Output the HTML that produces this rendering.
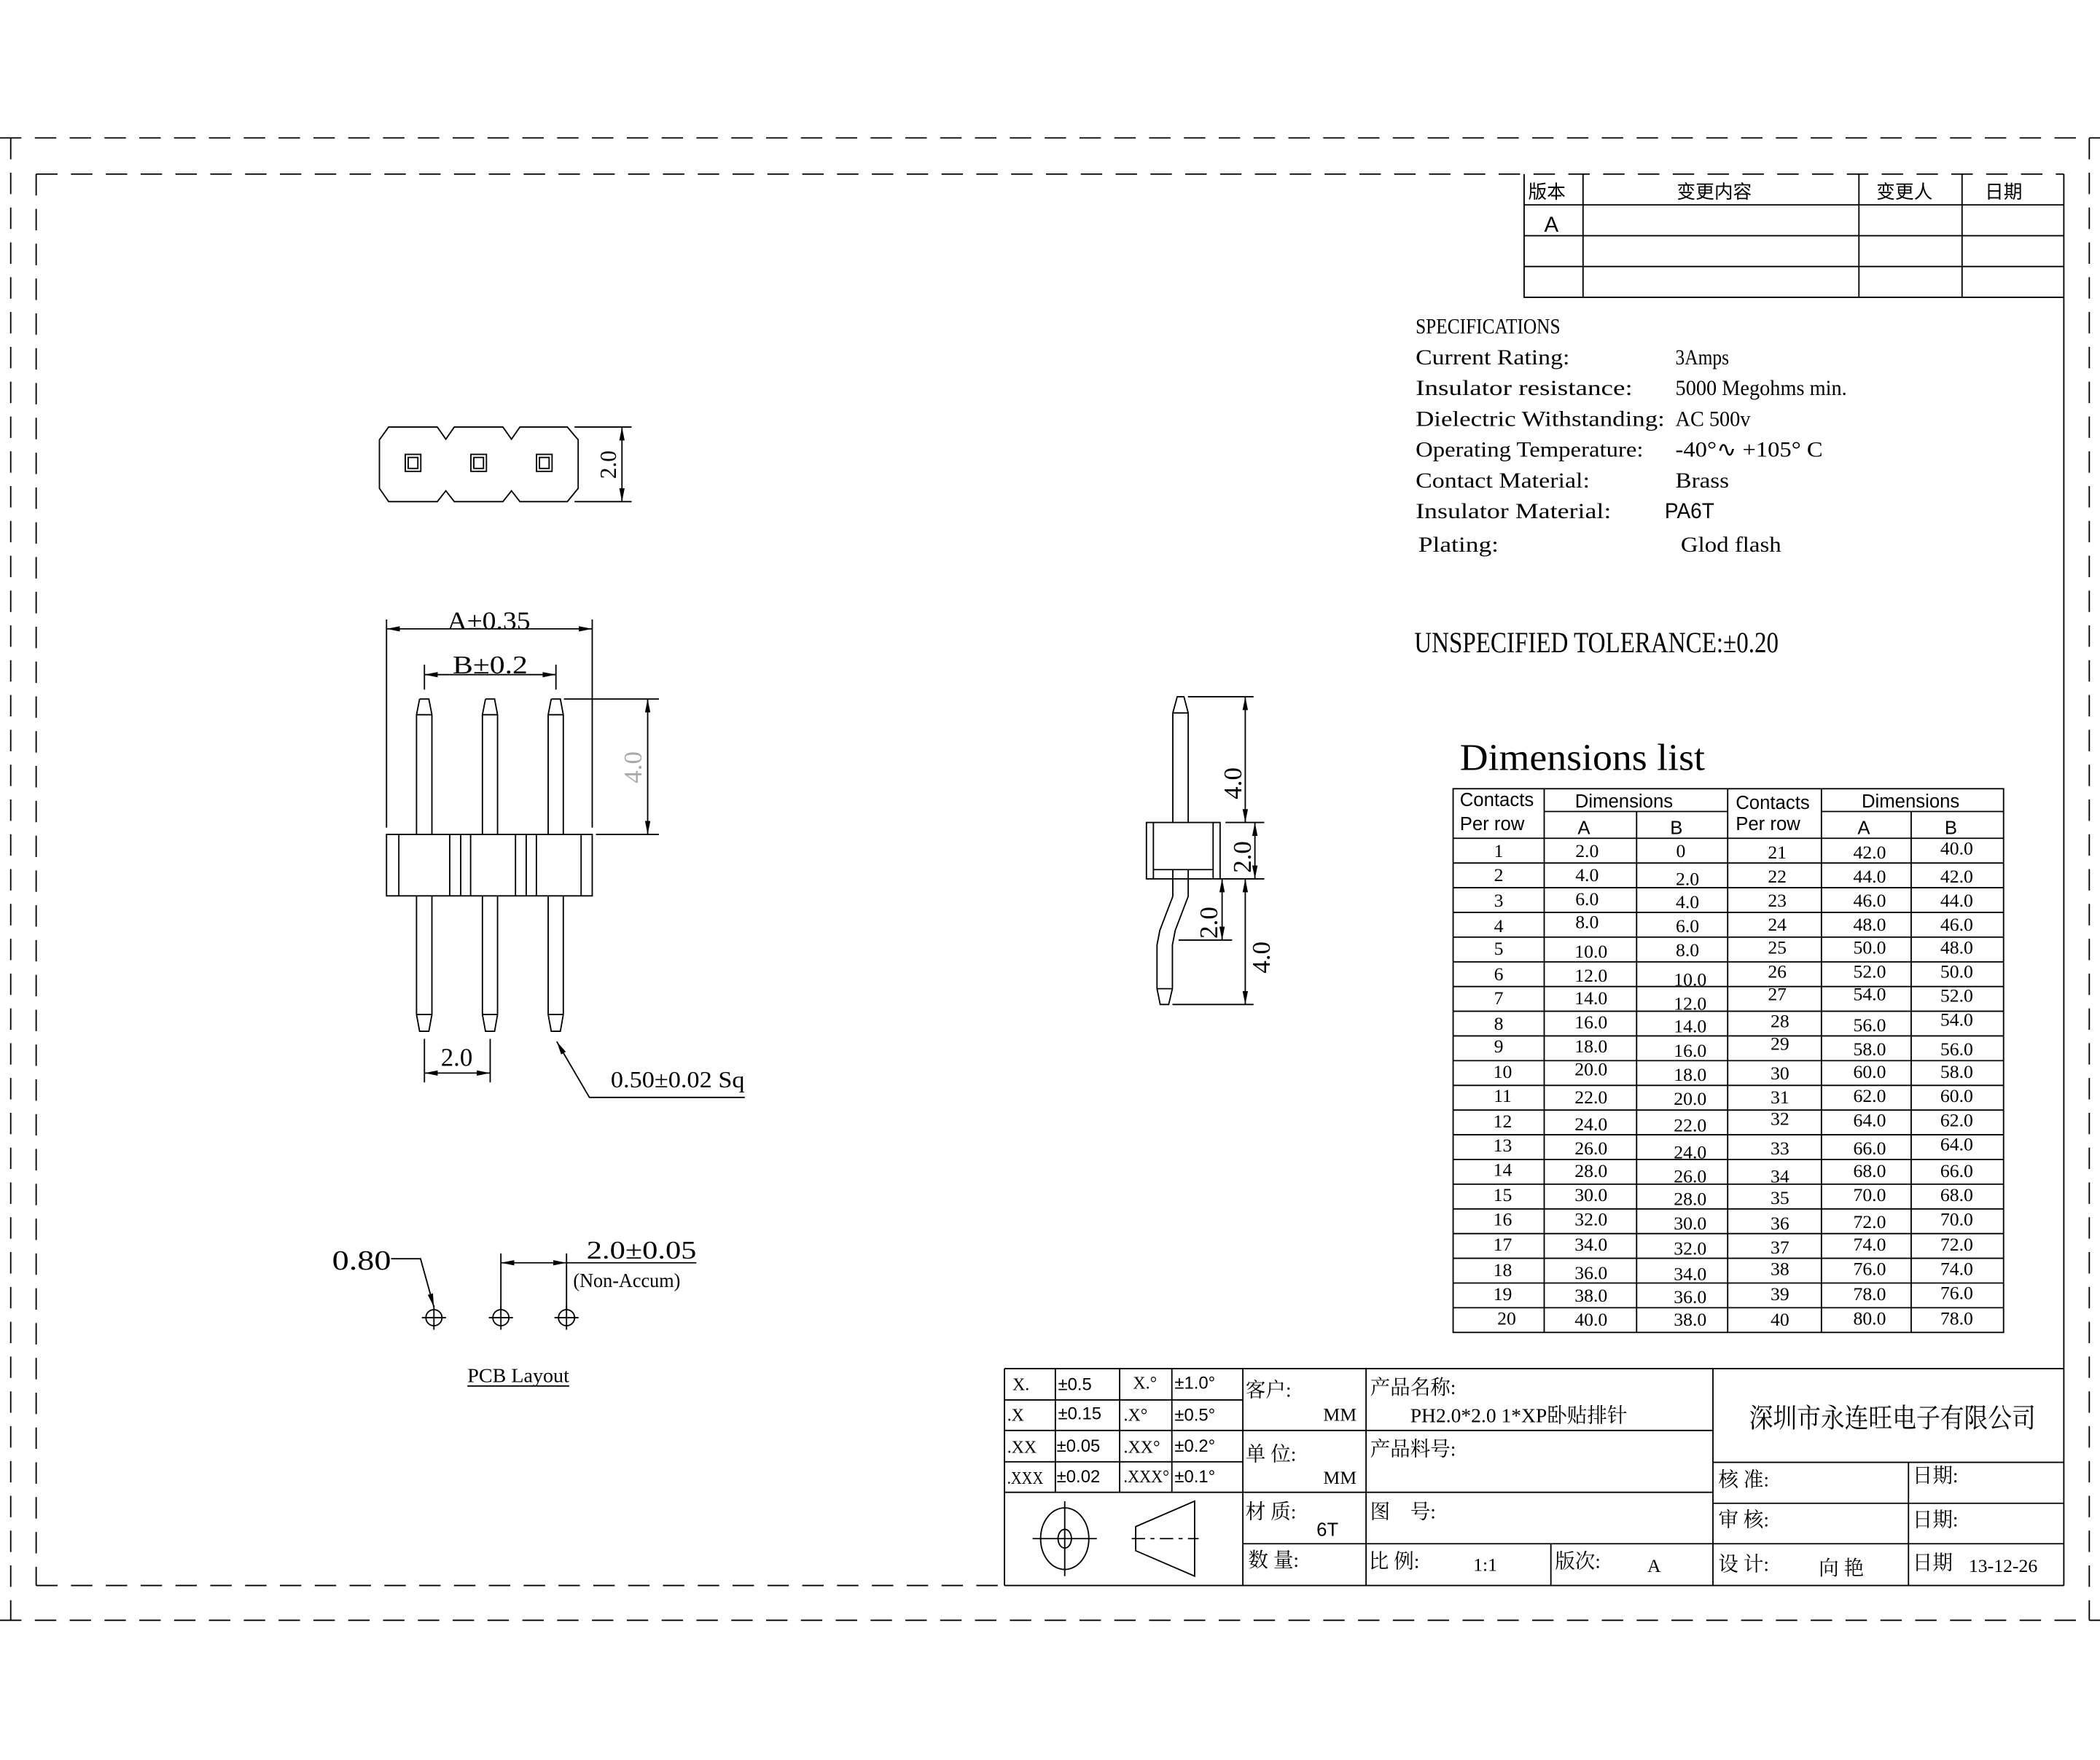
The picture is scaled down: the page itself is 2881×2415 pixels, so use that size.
<!DOCTYPE html>
<html><head><meta charset="utf-8">
<style>
html,body{margin:0;padding:0;background:#fff;}
svg{display:block;}
text{font-family:"Liberation Serif","Noto Serif CJK SC","Noto Sans CJK SC",serif;fill:#000;}
.s{font-family:"Liberation Sans","Noto Sans CJK SC",sans-serif;}
.c{font-family:"Liberation Sans","Noto Sans CJK SC",sans-serif;}
</style></head>
<body>
<svg width="2881" height="2415" viewBox="0 0 1568 1314.3" preserveAspectRatio="none" xmlns="http://www.w3.org/2000/svg">
<defs>
<marker id="ar" viewBox="0 0 10 4" refX="10" refY="2" markerWidth="10" markerHeight="4" markerUnits="userSpaceOnUse" orient="auto-start-reverse"><path d="M0,0 L10,2 L0,4 z" fill="#000"/></marker>
</defs>
<rect width="1568" height="1314.3" fill="#fff"/>
<g fill="none" stroke="#000" stroke-width="1">
<path d="M0,103 H1568 M0,1210 H1568 M8,103 V1210 M1560,103 V1210" stroke-dasharray="16,10"/>
<path d="M27,130 H1541 M27,1184 H750 M27,130 V1184" stroke-dasharray="16,10"/>
<path d="M1541,130 V1184 M750,1184 H1541"/>
<path d="M1138,130 V222 H1541 M1138,153 H1541 M1138,176 H1541 M1138,199 H1541 M1182,130 V222 M1388,130 V222 M1465,130 V222"/>
</g>
<g font-size="14">
<text x="1141" y="148" class="c">版本</text>
<text x="1252" y="148" class="c">变更内容</text>
<text x="1401" y="148" class="c">变更人</text>
<text x="1482" y="148" class="c">日期</text>
<text x="1153" y="173" class="s" font-size="16">A</text>
</g>
<g font-size="16">
<text x="1057" y="249" lengthAdjust="spacingAndGlyphs" textLength="108">SPECIFICATIONS</text>
<text x="1057" y="272" lengthAdjust="spacingAndGlyphs" textLength="115">Current Rating:</text>
<text x="1251" y="272" lengthAdjust="spacingAndGlyphs" textLength="40">3Amps</text>
<text x="1057" y="295" lengthAdjust="spacingAndGlyphs" textLength="162">Insulator resistance:</text>
<text x="1251" y="295" lengthAdjust="spacingAndGlyphs" textLength="128">5000 Megohms min.</text>
<text x="1057" y="318" lengthAdjust="spacingAndGlyphs" textLength="186">Dielectric Withstanding:</text>
<text x="1251" y="318" lengthAdjust="spacingAndGlyphs" textLength="56">AC 500v</text>
<text x="1057" y="341" lengthAdjust="spacingAndGlyphs" textLength="170">Operating Temperature:</text>
<text x="1251" y="341" lengthAdjust="spacingAndGlyphs" textLength="110">-40°∿ +105° C</text>
<text x="1057" y="364" lengthAdjust="spacingAndGlyphs" textLength="130">Contact Material:</text>
<text x="1251" y="364" lengthAdjust="spacingAndGlyphs" textLength="40">Brass</text>
<text x="1057" y="387" lengthAdjust="spacingAndGlyphs" textLength="146">Insulator Material:</text>
<text x="1243" y="387" class="s" lengthAdjust="spacingAndGlyphs" textLength="37">PA6T</text>
<text x="1059" y="412" lengthAdjust="spacingAndGlyphs" textLength="60">Plating:</text>
<text x="1255" y="412" lengthAdjust="spacingAndGlyphs" textLength="75">Glod flash</text>
<text x="1056" y="487" font-size="22" lengthAdjust="spacingAndGlyphs" textLength="272">UNSPECIFIED TOLERANCE:±0.20</text>
<text x="1090" y="575" font-size="28" lengthAdjust="spacingAndGlyphs" textLength="183">Dimensions list</text>
</g>
<g fill="none" stroke="#000" stroke-width="1">
<rect x="1085" y="589" width="411" height="406"/>
<path d="M1153,589 V995 M1290,589 V995 M1360,589 V995 M1153,606 H1290 M1360,606 H1496 M1222,606 V995 M1427,606 V995"/>
<path d="M1085,626 H1496 M1085,644.45 H1496 M1085,662.9 H1496 M1085,681.35 H1496 M1085,699.8 H1496 M1085,718.25 H1496 M1085,736.7 H1496 M1085,755.15 H1496 M1085,773.6 H1496 M1085,792.05 H1496 M1085,810.5 H1496 M1085,828.95 H1496 M1085,847.4 H1496 M1085,865.85 H1496 M1085,884.3 H1496 M1085,902.75 H1496 M1085,921.2 H1496 M1085,939.65 H1496 M1085,958.1 H1496 M1085,976.55 H1496"/>
</g>
<g font-size="14" fill="#000">
<text x="1090" y="602" class="s" fill="#333">Contacts</text>
<text x="1090" y="620" class="s" fill="#333">Per row</text>
<text x="1176" y="603" class="s" fill="#333">Dimensions</text>
<text x="1178" y="623" class="s" fill="#333">A</text>
<text x="1247" y="623" class="s" fill="#333">B</text>
<text x="1296" y="604" class="s" fill="#333">Contacts</text>
<text x="1296" y="620" class="s" fill="#333">Per row</text>
<text x="1390" y="603" class="s" fill="#333">Dimensions</text>
<text x="1387" y="623" class="s" fill="#333">A</text>
<text x="1452" y="623" class="s" fill="#333">B</text>
</g>
<g font-size="14" text-anchor="middle">
<text x="1119" y="640">1</text><text x="1185" y="640">2.0</text><text x="1255" y="640">0</text><text x="1327" y="641">21</text><text x="1396" y="641">42.0</text><text x="1461" y="638">40.0</text>
<text x="1119" y="658">2</text><text x="1185" y="658">4.0</text><text x="1260" y="661">2.0</text><text x="1327" y="659">22</text><text x="1396" y="659">44.0</text><text x="1461" y="659">42.0</text>
<text x="1119" y="677">3</text><text x="1185" y="676">6.0</text><text x="1260" y="678">4.0</text><text x="1327" y="677">23</text><text x="1396" y="677">46.0</text><text x="1461" y="677">44.0</text>
<text x="1119" y="696">4</text><text x="1185" y="693">8.0</text><text x="1260" y="696">6.0</text><text x="1327" y="695">24</text><text x="1396" y="695">48.0</text><text x="1461" y="695">46.0</text>
<text x="1119" y="713">5</text><text x="1188" y="715">10.0</text><text x="1260" y="714">8.0</text><text x="1327" y="712">25</text><text x="1396" y="712">50.0</text><text x="1461" y="712">48.0</text>
<text x="1119" y="732">6</text><text x="1188" y="733">12.0</text><text x="1262" y="736">10.0</text><text x="1327" y="730">26</text><text x="1396" y="730">52.0</text><text x="1461" y="730">50.0</text>
<text x="1119" y="750">7</text><text x="1188" y="750">14.0</text><text x="1262" y="754">12.0</text><text x="1327" y="747">27</text><text x="1396" y="747">54.0</text><text x="1461" y="748">52.0</text>
<text x="1119" y="769">8</text><text x="1188" y="768">16.0</text><text x="1262" y="771">14.0</text><text x="1329" y="767">28</text><text x="1396" y="770">56.0</text><text x="1461" y="766">54.0</text>
<text x="1119" y="786">9</text><text x="1188" y="786">18.0</text><text x="1262" y="789">16.0</text><text x="1329" y="784">29</text><text x="1396" y="788">58.0</text><text x="1461" y="788">56.0</text>
<text x="1122" y="805">10</text><text x="1188" y="803">20.0</text><text x="1262" y="807">18.0</text><text x="1329" y="806">30</text><text x="1396" y="805">60.0</text><text x="1461" y="805">58.0</text>
<text x="1122" y="823">11</text><text x="1188" y="824">22.0</text><text x="1262" y="825">20.0</text><text x="1329" y="824">31</text><text x="1396" y="823">62.0</text><text x="1461" y="823">60.0</text>
<text x="1122" y="842">12</text><text x="1188" y="844">24.0</text><text x="1262" y="845">22.0</text><text x="1329" y="840">32</text><text x="1396" y="841">64.0</text><text x="1461" y="841">62.0</text>
<text x="1122" y="860">13</text><text x="1188" y="862">26.0</text><text x="1262" y="865">24.0</text><text x="1329" y="862">33</text><text x="1396" y="862">66.0</text><text x="1461" y="859">64.0</text>
<text x="1122" y="878">14</text><text x="1188" y="879">28.0</text><text x="1262" y="883">26.0</text><text x="1329" y="883">34</text><text x="1396" y="879">68.0</text><text x="1461" y="879">66.0</text>
<text x="1122" y="897">15</text><text x="1188" y="897">30.0</text><text x="1262" y="900">28.0</text><text x="1329" y="899">35</text><text x="1396" y="897">70.0</text><text x="1461" y="897">68.0</text>
<text x="1122" y="915">16</text><text x="1188" y="915">32.0</text><text x="1262" y="918">30.0</text><text x="1329" y="918">36</text><text x="1396" y="917">72.0</text><text x="1461" y="915">70.0</text>
<text x="1122" y="934">17</text><text x="1188" y="934">34.0</text><text x="1262" y="937">32.0</text><text x="1329" y="936">37</text><text x="1396" y="934">74.0</text><text x="1461" y="934">72.0</text>
<text x="1122" y="953">18</text><text x="1188" y="955">36.0</text><text x="1262" y="956">34.0</text><text x="1329" y="952">38</text><text x="1396" y="952">76.0</text><text x="1461" y="952">74.0</text>
<text x="1122" y="971">19</text><text x="1188" y="972">38.0</text><text x="1262" y="973">36.0</text><text x="1329" y="971">39</text><text x="1396" y="971">78.0</text><text x="1461" y="970">76.0</text>
<text x="1125" y="989">20</text><text x="1188" y="990">40.0</text><text x="1262" y="990">38.0</text><text x="1329" y="990">40</text><text x="1396" y="989">80.0</text><text x="1461" y="989">78.0</text>
</g>
<g fill="none" stroke="#000" stroke-width="1">
<path d="M750,1022 H1541 M750,1022 V1184"/>
<path d="M750,1045.4 H928 M750,1068.2 H928 M750,1091.6 H928 M750,1114.4 H1279 M788,1022 V1114.4 M836,1022 V1114.4 M875,1022 V1114.4"/>
<path d="M928,1022 V1184 M1020,1022 V1184 M928,1068.2 H1279 M928,1152.8 H1279 M1158,1152.8 V1184 M1279,1022 V1184"/>
<path d="M1279,1092 H1541 M1279,1122.6 H1541 M1279,1152.8 H1541 M1425,1092 V1184"/>
<ellipse cx="795" cy="1149" rx="18" ry="23"/>
<ellipse cx="795" cy="1149" rx="5" ry="7"/>
<path d="M771,1149 H819 M795,1121 V1177"/>
<path d="M848,1140 L892,1121 V1177 L848,1158 Z"/>
<path d="M845,1149 H895" stroke-dasharray="10,4,3,4"/>
</g>
<g font-size="13">
<text x="756" y="1038">X.</text><text x="790" y="1038" class="s">±0.5</text><text x="846" y="1037">X.°</text><text x="877" y="1037" class="s">±1.0°</text>
<text x="752" y="1061">.X</text><text x="790" y="1060" class="s">±0.15</text><text x="839" y="1061">.X°</text><text x="877" y="1061" class="s">±0.5°</text>
<text x="752" y="1085">.XX</text><text x="789" y="1084" class="s">±0.05</text><text x="839" y="1085">.XX°</text><text x="877" y="1084" class="s">±0.2°</text>
<text x="752" y="1108" lengthAdjust="spacingAndGlyphs" textLength="27">.XXX</text><text x="789" y="1107" class="s">±0.02</text><text x="839" y="1107" lengthAdjust="spacingAndGlyphs" textLength="34">.XXX°</text><text x="877" y="1107" class="s">±0.1°</text>
<text x="930" y="1043" font-size="15">客户:</text>
<text x="988" y="1061" font-size="14">MM</text>
<text x="930" y="1091" font-size="15">单 位:</text>
<text x="988" y="1108" font-size="14">MM</text>
<text x="930" y="1134" font-size="15">材 质:</text>
<text x="983" y="1147" class="s" font-size="14">6T</text>
<text x="932" y="1170" font-size="15">数 量:</text>
<text x="1023" y="1041" font-size="15">产品名称:</text>
<text x="1053" y="1062" font-size="15">PH2.0*2.0 1*XP卧贴排针</text>
<text x="1023" y="1087" font-size="15">产品料号:</text>
<text x="1023" y="1134" font-size="15">图 &#160;&#160;&#160;号:</text>
<text x="1022" y="1171" font-size="15">比 例:</text>
<text x="1100" y="1173" font-size="14">1:1</text>
<text x="1161" y="1171" font-size="15">版次:</text>
<text x="1230" y="1174" font-size="14">A</text>
<text x="1306" y="1066" font-size="20" lengthAdjust="spacingAndGlyphs" textLength="214" font-family="Noto Sans CJK SC,sans-serif">深圳市永连旺电子有限公司</text>
<text x="1283" y="1110" font-size="15">核 准:</text>
<text x="1428" y="1107" font-size="15">日期:</text>
<text x="1283" y="1140" font-size="15">审 核:</text>
<text x="1428" y="1140" font-size="15">日期:</text>
<text x="1283" y="1173" font-size="15">设 计:</text>
<text x="1358" y="1176" font-size="15">向 艳</text>
<text x="1428" y="1172" font-size="15">日期</text>
<text x="1470" y="1174" font-size="14">13-12-26</text>
</g>
<g fill="none" stroke="#000" stroke-width="1">
<path d="M290.2,318.9 H326.5 L332.9,328 L339.2,318.9 H375.5 L381.9,328 L388.2,318.9 H423.6 L431.7,328.4 V364.7 L423.6,374.6 H388.2 L381.9,366.5 L375.5,374.6 H339.2 L332.9,366.5 L326.5,374.6 H290.2 L283.3,364.7 V328.4 Z"/>
<rect x="302.6" y="339.3" width="11.6" height="12.7"/><rect x="304.8" y="341.6" width="7.2" height="8.2"/>
<rect x="351.6" y="339.3" width="11.6" height="12.7"/><rect x="353.8" y="341.6" width="7.2" height="8.2"/>
<rect x="400.6" y="339.3" width="11.6" height="12.7"/><rect x="402.8" y="341.6" width="7.2" height="8.2"/>
<path d="M429,318.9 H471.6 M429,374.6 H471.6"/>
<path d="M464.4,318.9 V374.6" marker-start="url(#ar)" marker-end="url(#ar)"/>
</g>
<text transform="translate(460,347) rotate(-90)" font-size="17" text-anchor="middle">2.0</text>
<g fill="none" stroke="#000" stroke-width="1">
<path d="M313.3,522 H320.2 L322.5,533.7 V623.1 M311,623.1 V533.7 L313.3,522 M311,533.7 H322.5"/>
<path d="M362.5,522 H369.3 L371.5,533.7 V623.1 M360.2,623.1 V533.7 L362.5,522 M360.2,533.7 H371.5"/>
<path d="M411.6,522 H418.4 L420.6,533.7 V623.1 M409.3,623.1 V533.7 L411.6,522 M409.3,533.7 H420.6"/>
<rect x="288.6" y="623.1" width="153.6" height="45.9"/>
<path d="M297.8,623.1 V669 M335.8,623.1 V669 M344,623.1 V669 M351.4,623.1 V669 M384.9,623.1 V669 M392.9,623.1 V669 M400.5,623.1 V669 M433.9,623.1 V669"/>
<path d="M311,669 V757.6 L313.3,770.1 H320.2 L322.5,757.6 V669 M311,757.6 H322.5"/>
<path d="M360.2,669 V757.6 L362.5,770.1 H369.3 L371.5,757.6 V669 M360.2,757.6 H371.5"/>
<path d="M409.3,669 V757.6 L411.6,770.1 H418.4 L420.6,757.6 V669 M409.3,757.6 H420.6"/>
<path d="M288.6,462.6 V618 M442.2,462.6 V618"/>
<path d="M288.6,469.6 H442.2" marker-start="url(#ar)" marker-end="url(#ar)"/>
<path d="M316.9,496.3 V515 M415.1,496.3 V515"/>
<path d="M316.9,503.8 H415.1" marker-start="url(#ar)" marker-end="url(#ar)"/>
<path d="M421,522 H492 M445,623.1 H492"/>
<path d="M483.6,522 V623.1" marker-start="url(#ar)" marker-end="url(#ar)"/>
<path d="M316.9,775.8 V808.3 M366,775.8 V808.3"/>
<path d="M316.9,801.3 H366" marker-start="url(#ar)" marker-end="url(#ar)"/>
<path d="M556.1,819.5 H440.1 L415.7,777.8" marker-end="url(#ar)"/>
</g>
<text x="365" y="470" font-size="19" text-anchor="middle" lengthAdjust="spacingAndGlyphs" textLength="62">A±0.35</text>
<text x="366" y="503" font-size="19" text-anchor="middle" lengthAdjust="spacingAndGlyphs" textLength="56">B±0.2</text>
<text transform="translate(479,573) rotate(-90)" font-size="19" text-anchor="middle" style="fill:#aaa">4.0</text>
<text x="341" y="796" font-size="19" text-anchor="middle">2.0</text>
<text x="456" y="812" font-size="17" lengthAdjust="spacingAndGlyphs" textLength="100">0.50±0.02 Sq</text>
<g fill="none" stroke="#000" stroke-width="1">
<path d="M875.7,614.2 V532.4 L879,520.3 H884 L887.2,532.4 V614.2 M875.7,532.4 H887.2"/>
<rect x="856" y="614.2" width="55" height="42.1"/>
<path d="M861.2,614.2 V656.3 M905.8,614.2 V656.3 M861.2,649.4 H905.8"/>
<path d="M875.7,649.4 V669.4 L866,694.8 L863.9,705.7 V738.3 L866.3,750.1 H872.6 L875.4,738.3 V705.7 L877.5,694.8 L887.2,669.4 V649.4 M863.9,738.3 H875.4"/>
<path d="M887,520.3 H936 M915,614.2 H944 M911,656.3 H944 M875.4,750.1 H936 M880,702 H920"/>
<path d="M929.8,520.3 V614.2" marker-start="url(#ar)" marker-end="url(#ar)"/>
<path d="M937,614.2 V656.3" marker-start="url(#ar)" marker-end="url(#ar)"/>
<path d="M929.8,656.3 V750.1" marker-start="url(#ar)" marker-end="url(#ar)"/>
<path d="M912.5,656.3 V702" marker-start="url(#ar)" marker-end="url(#ar)"/>
</g>
<text transform="translate(927,585) rotate(-90)" font-size="19" text-anchor="middle">4.0</text>
<text transform="translate(934,640) rotate(-90)" font-size="19" text-anchor="middle">2.0</text>
<text transform="translate(909,689) rotate(-90)" font-size="19" text-anchor="middle">2.0</text>
<text transform="translate(948,715) rotate(-90)" font-size="19" text-anchor="middle">4.0</text>
<g fill="none" stroke="#000" stroke-width="1">
<circle cx="324" cy="984" r="6"/><path d="M315,984 H333 M324,975 V993"/>
<circle cx="374" cy="984" r="6"/><path d="M365,984 H383 M374,975 V993"/>
<circle cx="423" cy="984" r="6"/><path d="M414,984 H432 M423,975 V993"/>
<path d="M292,940 H314 L324,976" marker-end="url(#ar)"/>
<path d="M374,936 V978 M423,936 V978"/>
<path d="M374,943 H423" marker-start="url(#ar)" marker-end="url(#ar)"/>
<path d="M423,943 H520"/>
<path d="M349,1035 H425"/>
</g>
<text x="248" y="948" font-size="21" lengthAdjust="spacingAndGlyphs" textLength="44">0.80</text>
<text x="438" y="940" font-size="19" lengthAdjust="spacingAndGlyphs" textLength="82">2.0±0.05</text>
<text x="428" y="961" font-size="15" lengthAdjust="spacingAndGlyphs" textLength="80">(Non-Accum)</text>
<text x="349" y="1032" font-size="15" lengthAdjust="spacingAndGlyphs" textLength="76">PCB Layout</text>
</svg>
</body></html>
